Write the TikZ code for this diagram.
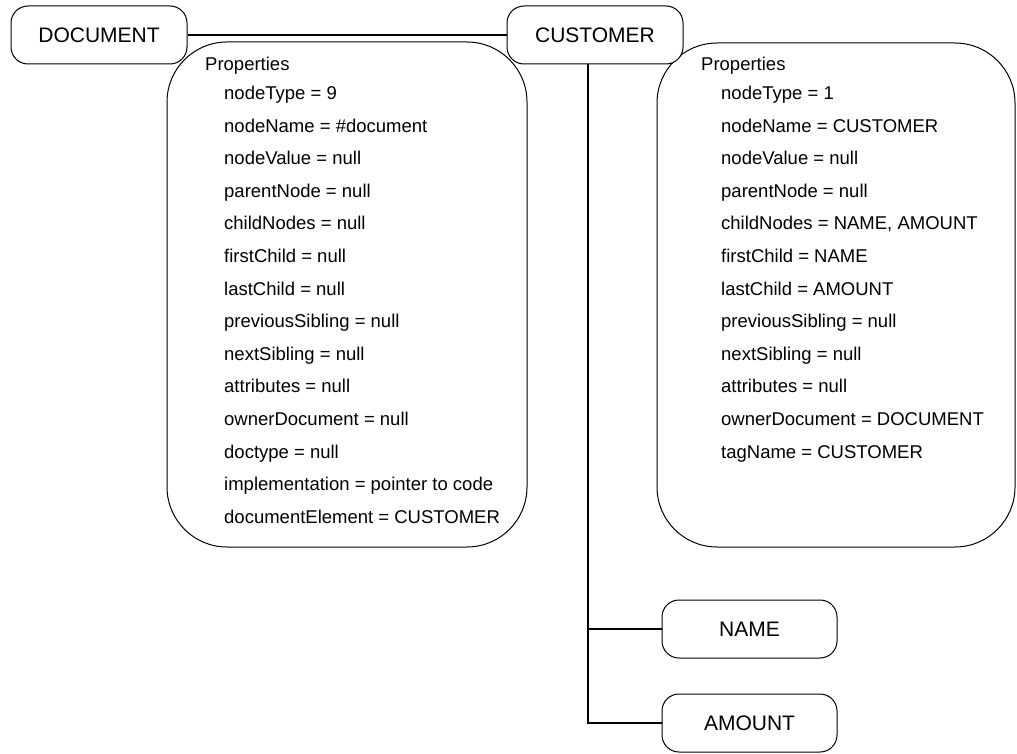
\documentclass[tikz,border=0pt]{standalone}
\usepackage{fontspec}
\setmainfont{Liberation Sans}
\usetikzlibrary{positioning}
\tikzset{>=latex}
\tikzstyle{node_obj}=[draw=black, fill=white, line width=1pt, rounded corners=17pt, minimum width=176pt, minimum height=58pt, inner sep=0pt, font=\fontsize{21}{25}\selectfont]
\tikzstyle{node_props}=[draw=black, line width=1pt, rounded corners=60pt, inner sep=0pt]
\tikzstyle{prop_text}=[anchor=base west, inner sep=0pt, font=\fontsize{18.5}{22}\selectfont]
\tikzstyle{connect}=[line width=2pt, black]

\begin{document}
\begin{tikzpicture}[x=1pt, y=-1pt]
\useasboundingbox (0,0) rectangle (1017,754);

% property boxes
        \node[node_props, minimum width=360pt, minimum height=505pt] (docprops) at (347,294.5) {};
        \node[node_props, minimum width=358pt, minimum height=504pt] (custprops) at (836,295) {};

        % DOM nodes
        \node[node_obj] (doc) at (99,35) {DOCUMENT};
        \node[node_obj] (cust) at (595,35) {CUSTOMER};
        \node[node_obj, minimum width=175pt] (name) at (749.5,629) {NAME};
        \node[node_obj, minimum width=175pt] (amount) at (749.5,723) {AMOUNT};
        \coordinate (trunk) at (588,0);

        % document properties
        \node[prop_text] (dochead) at (205,70.5) {Properties};
        \node[prop_text] (docp1) at (224,99.5) {nodeType = 9};
        \node[prop_text] (docp2) at (224,132.1) {nodeName = \#document};
        \node[prop_text] (docp3) at (224,164.7) {nodeValue = null};
        \node[prop_text] (docp4) at (224,197.3) {parentNode = null};
        \node[prop_text] (docp5) at (224,229.9) {childNodes = null};
        \node[prop_text] (docp6) at (224,262.5) {firstChild = null};
        \node[prop_text] (docp7) at (224,295.1) {lastChild = null};
        \node[prop_text] (docp8) at (224,327.7) {previousSibling = null};
        \node[prop_text] (docp9) at (224,360.3) {nextSibling = null};
        \node[prop_text] (docp10) at (224,392.9) {attributes = null};
        \node[prop_text] (docp11) at (224,425.5) {ownerDocument = null};
        \node[prop_text] (docp12) at (224,458.1) {doctype = null};
        \node[prop_text] (docp13) at (224,490.7) {implementation = pointer to code};
        \node[prop_text] (docp14) at (224,523.3) {documentElement = CUSTOMER};

        % customer properties
        \node[prop_text] (custhead) at (701,70.5) {Properties};
        \node[prop_text] (custp1) at (721,99.5) {nodeType = 1};
        \node[prop_text] (custp2) at (721,132.1) {nodeName = CUSTOMER};
        \node[prop_text] (custp3) at (721,164.7) {nodeValue = null};
        \node[prop_text] (custp4) at (721,197.3) {parentNode = null};
        \node[prop_text] (custp5) at (721,229.9) {childNodes = NAME, AMOUNT};
        \node[prop_text] (custp6) at (721,262.5) {firstChild = NAME};
        \node[prop_text] (custp7) at (721,295.1) {lastChild = AMOUNT};
        \node[prop_text] (custp8) at (721,327.7) {previousSibling = null};
        \node[prop_text] (custp9) at (721,360.3) {nextSibling = null};
        \node[prop_text] (custp10) at (721,392.9) {attributes = null};
        \node[prop_text] (custp11) at (721,425.5) {ownerDocument = DOCUMENT};
        \node[prop_text] (custp12) at (721,458.1) {tagName = CUSTOMER};

        \begin{scope}[connect]
            \draw (doc.east) -- (cust.west);
            \draw (cust.south -| trunk) |- (amount.west);
            \draw (trunk |- name.west) -- (name.west);
        \end{scope}

\end{tikzpicture}
\end{document}
